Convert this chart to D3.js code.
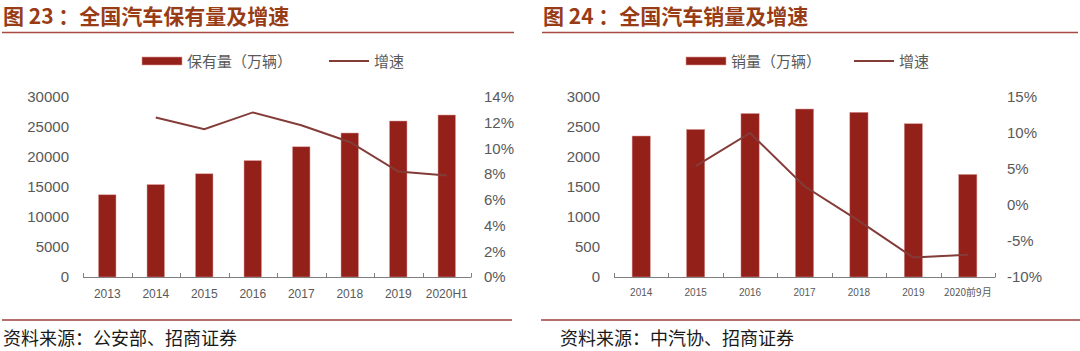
<!DOCTYPE html>
<html>
<head>
<meta charset="utf-8">
<script src="https://cdn.jsdelivr.net/npm/d3@7"></script>
<style>
  html, body { margin: 0; padding: 0; background: #fff; }
  svg { display: block; }
</style>
</head>
<body>
<svg id="chart" width="1080" height="351"></svg>
<script>
// ---- data ----
const ownYears = ['2013', '2014', '2015', '2016', '2017', '2018', '2019', '2020H1'];
const ownValues = [13700, 15400, 17200, 19400, 21700, 24000, 26000, 27000];
const ownGrowth = [null, 12.4, 11.5, 12.8, 11.8, 10.5, 8.2, 7.9];
const ownLeftTicks = [0, 5000, 10000, 15000, 20000, 25000, 30000];
const ownRightTicks = [0, 2, 4, 6, 8, 10, 12, 14];

const saleYears = ['2014', '2015', '2016', '2017', '2018', '2019', '2020前9月'];
const saleValues = [2350, 2460, 2725, 2800, 2745, 2555, 1710];
const saleGrowth = [null, 5.4, 10.0, 2.6, -2.2, -7.3, -6.9];
const saleLeftTicks = [0, 500, 1000, 1500, 2000, 2500, 3000];
const saleRightTicks = [-10, -5, 0, 5, 10, 15];

const BAR = '#94201a', LINE = '#843c39', TITLE = '#983c16', GREY = '#595959';
const CJK = '"Noto Sans CJK SC", "Noto Sans", sans-serif';
const LAT = '"Liberation Sans", Arial, sans-serif';

const svg = d3.select('#chart');

function panel(opt) {
  const g = svg.append('g');

  // title + rule
  g.append('text')
    .attr('x', opt.x0 + 3).attr('y', 24)
    .attr('fill', TITLE)
    .style('font-family', CJK).style('font-size', '21px').style('font-weight', '700')
    .text(opt.title);
  g.append('line')
    .attr('x1', opt.x0 + 2).attr('x2', opt.ruleEnd)
    .attr('y1', 32.5).attr('y2', 32.5)
    .attr('stroke', '#a84a44').attr('stroke-width', 1.5);

  // legend
  const lg = g.append('g').attr('transform', `translate(${opt.legendX},61)`);
  lg.append('rect').attr('x', 0).attr('y', -4).attr('width', 40).attr('height', 8)
    .attr('fill', BAR).attr('stroke', '#d99a96').attr('stroke-width', 0.6);
  lg.append('text').attr('x', 45).attr('y', 5.5).attr('fill', GREY)
    .style('font-family', CJK).style('font-size', '15px').text(opt.barName);
  lg.append('line').attr('x1', opt.lineLegendDx).attr('x2', opt.lineLegendDx + 40)
    .attr('y1', 0).attr('y2', 0).attr('stroke', LINE).attr('stroke-width', 2);
  lg.append('text').attr('x', opt.lineLegendDx + 45).attr('y', 5.5).attr('fill', GREY)
    .style('font-family', CJK).style('font-size', '15px').text('增速');

  const x = d3.scaleBand().domain(opt.cats).range(opt.xRange).paddingInner(0).paddingOuter(0);
  const y = d3.scaleLinear().domain(opt.yDomain).range([277, 97]);
  const y2 = d3.scaleLinear().domain(opt.y2Domain).range([277, 97]);
  const bw = x.bandwidth() * opt.barFrac;

  // left axis labels
  g.append('g')
    .attr('transform', `translate(${opt.xRange[0] - 14},0)`)
    .call(d3.axisLeft(y).tickValues(opt.leftTicks).tickSize(0).tickPadding(0)
      .tickFormat(d3.format('d')))
    .call(a => a.select('.domain').remove())
    .call(a => a.selectAll('text').attr('fill', GREY)
      .style('font-family', LAT).style('font-size', '15px'));

  // right axis labels
  g.append('g')
    .attr('transform', `translate(${opt.rightLabelX},0)`)
    .call(d3.axisRight(y2).tickValues(opt.rightTicks).tickSize(0).tickPadding(0)
      .tickFormat(d => d + '%'))
    .call(a => a.select('.domain').remove())
    .call(a => a.selectAll('text').attr('fill', GREY)
      .style('font-family', LAT).style('font-size', '15px'));

  // bars
  g.append('g').selectAll('rect')
    .data(opt.values)
    .join('rect')
    .attr('x', (d, i) => x(opt.cats[i]) + (x.bandwidth() - bw) / 2)
    .attr('width', bw)
    .attr('y', d => y(d))
    .attr('height', d => y(0) - y(d))
    .attr('fill', BAR)
    .attr('stroke', '#d99a96').attr('stroke-width', 0.5);

  // x axis: line with upward ticks at band edges
  const edges = opt.cats.map(c => x(c)).concat([opt.xRange[1]]);
  const ax = g.append('g');
  ax.append('line').attr('x1', opt.xRange[0]).attr('x2', opt.xRange[1])
    .attr('y1', y(0) + 0.5).attr('y2', y(0) + 0.5).attr('stroke', '#7f7f7f');
  ax.selectAll('.tk').data(edges).join('line')
    .attr('x1', d => Math.round(d) + 0.5).attr('x2', d => Math.round(d) + 0.5)
    .attr('y1', y(0) + 0.5).attr('y2', y(0) - 4).attr('stroke', '#7f7f7f');
  ax.selectAll('.lbl').data(opt.cats).join('text')
    .attr('x', d => x(d) + x.bandwidth() / 2)
    .attr('y', opt.xLabelY)
    .attr('text-anchor', 'middle')
    .attr('fill', GREY)
    .style('font-family', d => /[^\x00-\x7f]/.test(d) ? CJK : LAT)
    .style('font-size', opt.xLabelSize + 'px')
    .text(d => d);

  // growth line
  const pts = opt.growth.map((v, i) => ({ c: opt.cats[i], v })).filter(d => d.v !== null);
  g.append('path')
    .datum(pts)
    .attr('fill', 'none')
    .attr('stroke', LINE)
    .attr('stroke-width', 2)
    .attr('d', d3.line().x(d => x(d.c) + x.bandwidth() / 2).y(d => y2(d.v)));

  // bottom rule + source
  g.append('line')
    .attr('x1', opt.srcRule[0]).attr('x2', opt.srcRule[1])
    .attr('y1', 320).attr('y2', 320)
    .attr('stroke', '#b86e6a').attr('stroke-width', 2);
  g.append('text')
    .attr('x', opt.srcX).attr('y', 345)
    .attr('fill', '#1a1a1a')
    .style('font-family', CJK).style('font-size', '18px')
    .text(opt.source);
}

panel({
  x0: 0,
  title: '图 23 ：全国汽车保有量及增速',
  ruleEnd: 514,
  legendX: 142, lineLegendDx: 187,
  barName: '保有量（万辆）',
  cats: ownYears, values: ownValues, growth: ownGrowth,
  xRange: [83, 471], barFrac: 0.36,
  yDomain: [0, 30000], y2Domain: [0, 14],
  leftTicks: ownLeftTicks, rightTicks: ownRightTicks,
  rightLabelX: 484,
  xLabelY: 297.5, xLabelSize: 12,
  srcRule: [2, 512], srcX: 3,
  source: '资料来源：公安部、招商证券'
});

panel({
  x0: 540,
  title: '图 24 ：全国汽车销量及增速',
  ruleEnd: 1078,
  legendX: 686, lineLegendDx: 168,
  barName: '销量（万辆）',
  cats: saleYears, values: saleValues, growth: saleGrowth,
  xRange: [614, 995], barFrac: 0.335,
  yDomain: [0, 3000], y2Domain: [-10, 15],
  leftTicks: saleLeftTicks, rightTicks: saleRightTicks,
  rightLabelX: 1007,
  xLabelY: 295.5, xLabelSize: 10,
  srcRule: [541, 1080], srcX: 560,
  source: '资料来源：中汽协、招商证券'
});
</script>
</body>
</html>
